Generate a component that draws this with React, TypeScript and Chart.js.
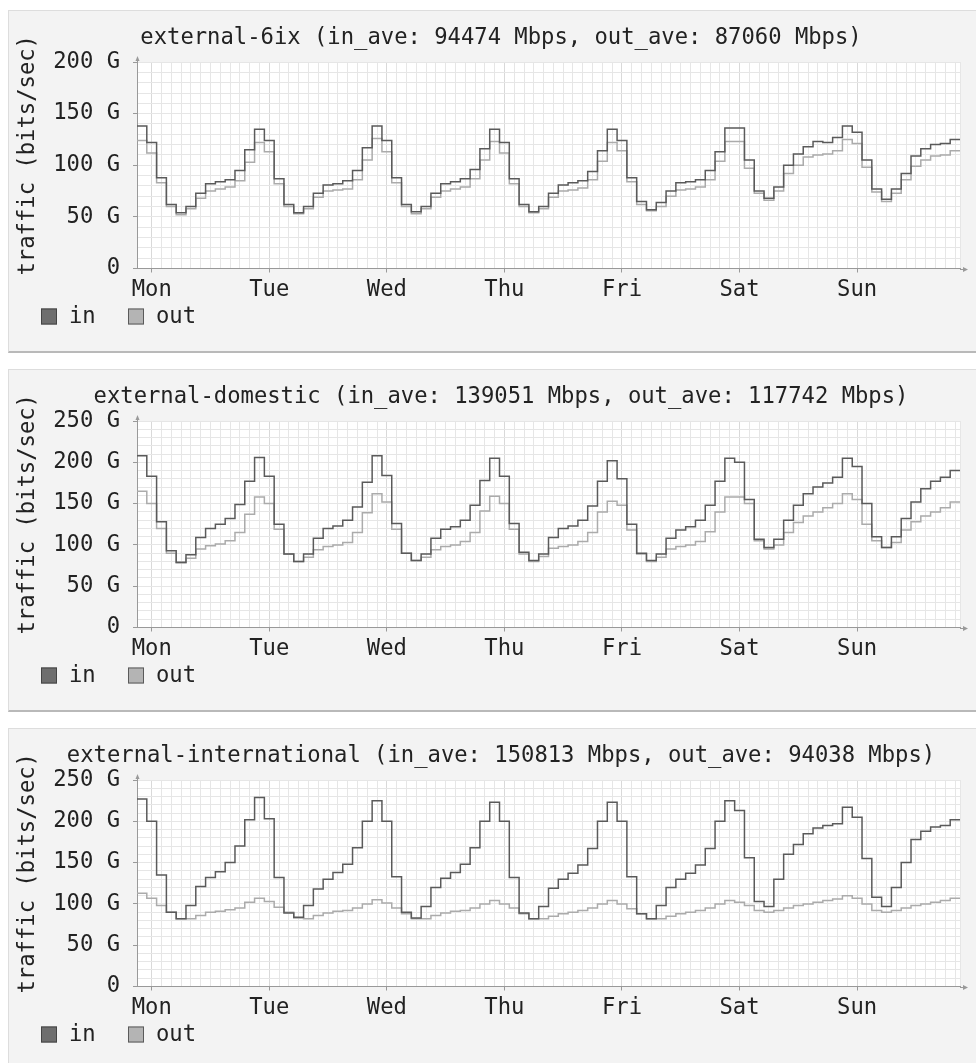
import React, { useEffect, useRef } from 'react';
import { Chart, registerables } from 'chart.js';

Chart.register(...registerables);

// ---------- data ----------
const DAY_LABELS = ['Mon', 'Tue', 'Wed', 'Thu', 'Fri', 'Sat', 'Sun'];
const HOURS_PER_STEP = 2;
const FIRST_DAY_HOUR = 3;
const TOTAL_HOURS = 168;
const SERIES_LABELS = ['in', 'out'];
const Y_AXIS_TITLE = 'traffic (bits/sec)';

const SIX_TITLE = 'external-6ix (in_ave: 94474 Mbps, out_ave: 87060 Mbps)';
const SIX_MAX = 200;
const SIX_IN = [
  138, 122, 88, 62, 54, 60, 73, 82, 84, 86, 95, 115,
  135, 124, 87, 62, 54, 60, 73, 81, 82, 85, 95, 117,
  138, 124, 88, 62, 55, 60, 73, 82, 84, 87, 96, 116,
  135, 122, 87, 62, 55, 60, 73, 81, 83, 85, 94, 114,
  135, 124, 88, 65, 57, 64, 75, 83, 84, 86, 95, 113,
  136, 136, 105, 75, 68, 79, 100, 111, 118, 123, 122, 127,
  138, 132, 105, 77, 67, 77, 92, 109, 116, 120, 121, 125,
];
const SIX_OUT = [
  124, 112, 83, 60, 52, 58, 68, 75, 77, 79, 85, 103,
  122, 113, 82, 60, 53, 58, 69, 75, 76, 77, 86, 105,
  126, 113, 83, 60, 53, 58, 69, 75, 77, 79, 87, 105,
  123, 112, 82, 60, 54, 58, 69, 75, 76, 78, 86, 104,
  122, 114, 84, 62, 56, 60, 70, 76, 77, 79, 86, 104,
  123, 123, 97, 73, 66, 75, 92, 100, 108, 110, 111, 114,
  125, 121, 98, 74, 65, 73, 86, 99, 105, 109, 110, 114,
];

const DOM_TITLE = 'external-domestic (in_ave: 139051 Mbps, out_ave: 117742 Mbps)';
const DOM_MAX = 250;
const DOM_IN = [
  208, 183, 128, 93, 79, 88, 109, 120, 125, 132, 149, 177,
  206, 183, 125, 89, 80, 89, 108, 120, 123, 130, 146, 176,
  208, 184, 126, 90, 81, 89, 108, 119, 122, 130, 148, 178,
  205, 183, 126, 91, 81, 89, 109, 120, 123, 130, 147, 177,
  202, 180, 125, 90, 81, 89, 108, 118, 122, 130, 148, 177,
  205, 200, 155, 107, 97, 107, 130, 148, 162, 170, 175, 182,
  205, 195, 150, 110, 97, 110, 132, 152, 168, 177, 182, 190,
];
const DOM_OUT = [
  165, 150, 120, 90, 78, 84, 95, 99, 101, 105, 115, 137,
  158, 150, 119, 89, 80, 85, 94, 98, 100, 103, 115, 139,
  162, 152, 119, 90, 81, 85, 94, 98, 100, 104, 115, 141,
  159, 150, 119, 89, 80, 86, 96, 98, 100, 104, 115, 140,
  153, 148, 118, 89, 80, 85, 95, 98, 100, 104, 116, 140,
  158, 158, 150, 105, 95, 100, 115, 127, 135, 140, 145, 150,
  162, 155, 125, 105, 97, 103, 118, 128, 135, 140, 145, 152,
];

const INT_TITLE = 'external-international (in_ave: 150813 Mbps, out_ave: 94038 Mbps)';
const INT_MAX = 250;
const INT_IN = [
  227, 200, 135, 90, 82, 98, 121, 132, 139, 150, 170, 202,
  229, 203, 132, 89, 84, 98, 118, 130, 138, 148, 168, 200,
  225, 200, 133, 90, 83, 97, 120, 131, 138, 148, 168, 200,
  223, 200, 132, 89, 82, 97, 119, 130, 137, 147, 167, 200,
  223, 200, 133, 88, 82, 98, 120, 130, 137, 147, 167, 200,
  225, 213, 156, 103, 97, 130, 160, 172, 185, 192, 195, 197,
  217, 205, 155, 108, 97, 120, 150, 178, 188, 193, 195, 202,
];
const INT_OUT = [
  113, 107, 98, 90, 82, 82, 86, 90, 91, 93, 95, 102,
  107, 103, 96, 90, 83, 82, 86, 89, 91, 92, 95, 100,
  105, 101, 95, 88, 82, 82, 86, 89, 91, 92, 95, 100,
  104, 100, 95, 88, 82, 82, 85, 88, 90, 92, 95, 100,
  104, 100, 94, 88, 82, 82, 85, 88, 90, 92, 95, 100,
  104, 102, 98, 92, 90, 92, 95, 98, 100, 102, 104, 106,
  110, 107, 100, 92, 90, 92, 95, 98, 100, 102, 104, 107,
];

// ---------- styling ----------
const FONT = "'DejaVu Sans Mono', monospace";
const FONT_SIZE = 22.2;
const TEXT = '#222222';
const AXIS = '#999999';
const CANVAS_W = 984;
const CANVAS_H = 340;

const SERIES_STYLE = [
  { line: '#5a5a5a', fill: '#6e6e6e', edge: '#444444' },
  { line: '#ababab', fill: '#b4b4b4', edge: '#5a5a5a' },
];

function toPoints(vals: number[]) {
  const pts = vals.map((v, i) => ({ x: i * HOURS_PER_STEP, y: v }));
  pts.push({ x: vals.length * HOURS_PER_STEP, y: vals[vals.length - 1] });
  return pts;
}

function isDayHour(v: number) {
  return (v - FIRST_DAY_HOUR) % 24 === 0 && v >= FIRST_DAY_HOUR;
}

const decorPlugin = {
  id: 'decor',
  beforeDraw(chart: any) {
    const { ctx, chartArea: a } = chart;
    ctx.save();
    ctx.fillStyle = '#ffffff';
    ctx.fillRect(a.left, a.top, a.right - a.left, a.bottom - a.top);
    ctx.restore();
  },
  afterDraw(chart: any) {
    const { ctx, chartArea: a } = chart;
    ctx.save();
    // axis arrows
    ctx.strokeStyle = AXIS;
    ctx.fillStyle = AXIS;
    ctx.lineWidth = 1;
    const x0 = Math.round(a.left) + 0.5;
    const yb = Math.round(a.bottom) + 0.5;
    ctx.beginPath();
    ctx.moveTo(x0, a.top);
    ctx.lineTo(x0, a.top - 3);
    ctx.moveTo(a.right, yb);
    ctx.lineTo(a.right + 3, yb);
    ctx.stroke();
    ctx.beginPath();
    ctx.moveTo(x0, a.top - 6);
    ctx.lineTo(x0 - 2, a.top - 1);
    ctx.lineTo(x0 + 2, a.top - 1);
    ctx.closePath();
    ctx.fill();
    ctx.beginPath();
    ctx.moveTo(a.right + 8, yb);
    ctx.lineTo(a.right + 3, yb - 2.5);
    ctx.lineTo(a.right + 3, yb + 2.5);
    ctx.closePath();
    ctx.fill();

    // y-axis title
    ctx.fillStyle = TEXT;
    ctx.font = `${FONT_SIZE}px ${FONT}`;
    ctx.textAlign = 'center';
    ctx.textBaseline = 'middle';
    ctx.save();
    ctx.translate(19, (a.top + a.bottom) / 2 - 10);
    ctx.rotate(-Math.PI / 2);
    ctx.fillText(Y_AXIS_TITLE, 0, 0);
    ctx.restore();

    // legend
    const ly = a.bottom + 48;
    let lx = 32;
    chart.data.datasets.forEach((ds: any, i: number) => {
      const st = SERIES_STYLE[i];
      ctx.fillStyle = st.fill;
      ctx.fillRect(lx, ly - 8, 16, 16);
      ctx.strokeStyle = st.edge;
      ctx.lineWidth = 1;
      ctx.strokeRect(lx + 0.5, ly - 7.5, 15, 15);
      ctx.fillStyle = TEXT;
      ctx.textAlign = 'left';
      ctx.textBaseline = 'middle';
      ctx.fillText(ds.label, lx + 28, ly + 1);
      lx += 87;
    });
    ctx.restore();
  },
};

type PanelProps = { title: string; inVals: number[]; outVals: number[]; max: number; top: number };

function Panel({ title, inVals, outVals, max, top }: PanelProps) {
  const ref = useRef<HTMLCanvasElement | null>(null);
  useEffect(() => {
    if (!ref.current) return;
    const xTicks: number[] = [];
    for (let h = FIRST_DAY_HOUR; h < TOTAL_HOURS; h += HOURS_PER_STEP) xTicks.push(h);
    xTicks.push(TOTAL_HOURS);
    const series = [inVals, outVals];
    const chart = new Chart(ref.current, {
      type: 'line',
      data: {
        datasets: series.map((vals, i) => ({
          label: SERIES_LABELS[i],
          data: toPoints(vals),
          borderColor: SERIES_STYLE[i].line,
          backgroundColor: SERIES_STYLE[i].fill,
          borderWidth: 1.5,
          stepped: 'before' as const,
          pointRadius: 0,
          fill: false,
        })),
      },
      options: {
        responsive: false,
        animation: false,
        devicePixelRatio: 1,
        layout: { padding: { left: 33, right: 33, top: 0, bottom: 0 } },
        plugins: {
          legend: { display: false },
          tooltip: { enabled: false },
          title: {
            display: true,
            text: title,
            color: TEXT,
            font: { family: FONT, size: FONT_SIZE, weight: 'normal' },
            padding: { top: 14, bottom: 10.4 },
          },
        },
        scales: {
          x: {
            type: 'linear',
            min: 0,
            max: TOTAL_HOURS,
            afterBuildTicks: (s: any) => {
              s.ticks = xTicks.map((v) => ({ value: v }));
            },
            afterFit: (s: any) => {
              s.height = 82.5;
            },
            ticks: {
              autoSkip: false,
              maxRotation: 0,
              padding: 4,
              color: TEXT,
              font: { family: FONT, size: FONT_SIZE },
              callback: (v: any) => (isDayHour(Number(v)) ? DAY_LABELS[(Number(v) - FIRST_DAY_HOUR) / 24] : ''),
            },
            grid: {
              color: (c: any) => (c.tick && isDayHour(c.tick.value) ? '#d9d9d9' : '#e6e6e6'),
              lineWidth: 1,
              tickLength: 4,
              tickColor: (c: any) => (c.tick && isDayHour(c.tick.value) ? AXIS : 'rgba(0,0,0,0)'),
            },
            border: { display: true, color: AXIS, width: 1 },
          },
          y: {
            min: 0,
            max,
            afterFit: (s: any) => {
              s.width = 95;
            },
            ticks: {
              stepSize: 10,
              autoSkip: false,
              padding: 13,
              color: TEXT,
              font: { family: FONT, size: FONT_SIZE },
              callback: (v: any) => {
                const n = Number(v);
                if (n % 50 !== 0) return '';
                return n === 0 ? '0' : `${n} G`;
              },
            },
            grid: {
              color: '#e6e6e6',
              lineWidth: 1,
              tickLength: 4,
              tickColor: (c: any) => (c.tick && c.tick.value % 50 === 0 ? AXIS : 'rgba(0,0,0,0)'),
            },
            border: { display: true, color: AXIS, width: 1 },
          },
        },
      },
      plugins: [decorPlugin],
    } as any);
    return () => chart.destroy();
  }, [title, inVals, outVals, max]);

  return (
    <div
      style={{
        position: 'absolute',
        left: 8,
        top,
        width: 990,
        height: CANVAS_H,
        background: '#f3f3f3',
        borderTop: '1px solid #dddddd',
        borderLeft: '1px solid #dddddd',
        borderBottom: '2px solid #b9b9b9',
      }}
    >
      <canvas ref={ref} width={CANVAS_W} height={CANVAS_H} style={{ display: 'block' }} />
    </div>
  );
}

export default function App() {
  return (
    <div style={{ position: 'fixed', left: 0, top: 0, width: 976, height: 1063, overflow: 'hidden', background: '#ffffff' }}>
      <Panel title={SIX_TITLE} inVals={SIX_IN} outVals={SIX_OUT} max={SIX_MAX} top={10} />
      <Panel title={DOM_TITLE} inVals={DOM_IN} outVals={DOM_OUT} max={DOM_MAX} top={369} />
      <Panel title={INT_TITLE} inVals={INT_IN} outVals={INT_OUT} max={INT_MAX} top={728} />
    </div>
  );
}
